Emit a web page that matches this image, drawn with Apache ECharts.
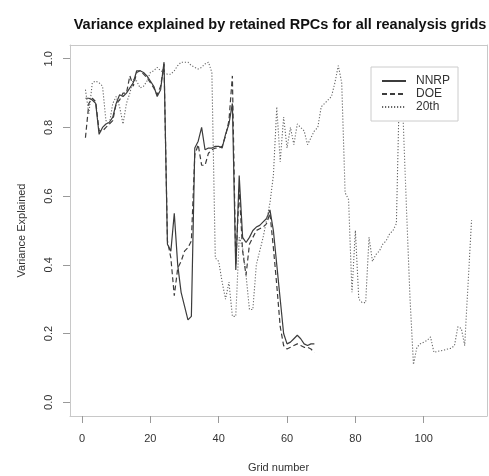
<!DOCTYPE html>
<html>
<head>
<meta charset="utf-8" />
<title>Variance explained by retained RPCs</title>
<script src="https://cdn.jsdelivr.net/npm/echarts@6/dist/echarts.min.js"></script>
<style>
    body { margin: 0; background: #fff; }
</style>
</head>
<body>
<div id="main" style="width: 489px;height: 476px;"></div>
<script type="text/javascript">
// values, grid numbers start at 1
var nnrp = [0.885, 0.885, 0.88, 0.87, 0.78, 0.80, 0.81, 0.815, 0.83, 0.87,
    0.895, 0.89, 0.90, 0.915, 0.93, 0.965, 0.965, 0.96, 0.95, 0.935,
    0.92, 0.89, 0.91, 0.99, 0.46, 0.44, 0.55, 0.40, 0.32, 0.28,
    0.24, 0.25, 0.74, 0.76, 0.80, 0.735, 0.74, 0.74, 0.745, 0.745,
    0.74, 0.78, 0.81, 0.87, 0.385, 0.66, 0.48, 0.465, 0.48, 0.50,
    0.51, 0.515, 0.525, 0.535, 0.56, 0.50, 0.40, 0.30, 0.20, 0.17,
    0.175, 0.185, 0.195, 0.185, 0.17, 0.165, 0.17, 0.17];
var doe = [0.77, 0.87, 0.885, 0.875, 0.79, 0.79, 0.80, 0.81, 0.82, 0.87,
    0.88, 0.90, 0.90, 0.95, 0.92, 0.96, 0.965, 0.955, 0.945, 0.93,
    0.915, 0.895, 0.92, 0.985, 0.47, 0.42, 0.31, 0.39, 0.41, 0.44,
    0.45, 0.47, 0.72, 0.75, 0.69, 0.69, 0.725, 0.735, 0.74, 0.74,
    0.745, 0.775, 0.82, 0.95, 0.40, 0.62, 0.44, 0.37, 0.46, 0.48,
    0.50, 0.505, 0.51, 0.52, 0.55, 0.45, 0.34, 0.22, 0.165, 0.155,
    0.16, 0.165, 0.17, 0.165, 0.16, 0.16, 0.155, 0.145];
var twentieth = [0.91, 0.84, 0.93, 0.935, 0.93, 0.92, 0.82, 0.81, 0.87, 0.89,
    0.86, 0.81, 0.87, 0.90, 0.94, 0.935, 0.915, 0.92, 0.935, 0.96,
    0.965, 0.975, 0.965, 0.96, 0.955, 0.955, 0.965, 0.98, 0.99, 0.99,
    0.99, 0.98, 0.975, 0.97, 0.975, 0.985, 0.99, 0.96, 0.42, 0.41,
    0.35, 0.30, 0.35, 0.25, 0.25, 0.48, 0.45, 0.37, 0.27, 0.27,
    0.40, 0.44, 0.48, 0.53, 0.58, 0.66, 0.86, 0.70, 0.83, 0.74,
    0.80, 0.75, 0.81, 0.80, 0.79, 0.75, 0.77, 0.79, 0.80, 0.86,
    0.87, 0.88, 0.89, 0.93, 0.98, 0.93, 0.61, 0.59, 0.32, 0.50,
    0.30, 0.29, 0.29, 0.48, 0.41, 0.43, 0.44, 0.46, 0.47, 0.49,
    0.50, 0.52, 0.97, 0.82, 0.55, 0.30, 0.11, 0.16, 0.17, 0.175,
    0.18, 0.19, 0.145, 0.148, 0.15, 0.152, 0.155, 0.157, 0.165, 0.22,
    0.215, 0.165, 0.35, 0.53];
var seriesNames = ['NNRP', 'DOE', '20th'];
var xTicks = [0, 20, 40, 60, 80, 100];
var yTicks = [0, 0.2, 0.4, 0.6, 0.8, 1.0];

function toPairs(arr) {
    return arr.map(function (v, i) { return [i + 1, v]; });
}

var myChart = echarts.init(document.getElementById('main'));

var boxLine = { show: true, onZero: false, lineStyle: { color: '#c8c8c8', width: 1 } };
var tickStyle = { color: '#999', width: 1 };

var option = {
    animation: false,
    backgroundColor: '#fff',
    textStyle: { fontFamily: 'Liberation Sans, Arial, sans-serif' },
    title: {
        text: 'Variance explained by retained RPCs for all reanalysis grids',
        left: 275,
        top: 12,
        textAlign: 'center',
        textStyle: { fontSize: 14.5, fontWeight: 'bold', color: '#111' }
    },
    legend: {
        data: seriesNames,
        orient: 'vertical',
        left: 371,
        top: 67,
        padding: [8, 8, 8, 10],
        itemGap: 1,
        itemWidth: 24,
        itemHeight: 14,
        backgroundColor: '#fff',
        borderColor: '#ccc',
        borderWidth: 1,
        borderRadius: 0,
        z: 10,
        itemStyle: { opacity: 0 },
        textStyle: { fontSize: 12, color: '#333', padding: [0, 0, 0, 5] }
    },
    grid: {
        left: 70,
        right: 2,
        top: 45,
        bottom: 60,
        show: false,
        containLabel: false,
        outerBoundsMode: 'none'
    },
    xAxis: [{
        type: 'value',
        position: 'bottom',
        min: -3.52,
        max: 118.52,
        name: 'Grid number',
        nameLocation: 'middle',
        nameGap: 46,
        nameTextStyle: { fontSize: 11, color: '#333' },
        axisLine: boxLine,
        splitLine: { show: false },
        axisTick: { show: true, inside: false, customValues: xTicks, length: 7, lineStyle: tickStyle },
        axisLabel: { show: true, customValues: xTicks, fontSize: 11, color: '#333', margin: 17 }
    }, {
        type: 'value',
        position: 'top',
        min: -3.52,
        max: 118.52,
        axisLine: boxLine,
        axisTick: { show: false },
        axisLabel: { show: false },
        splitLine: { show: false }
    }],
    yAxis: [{
        type: 'value',
        position: 'left',
        min: -0.04,
        max: 1.04,
        name: 'Variance Explained',
        nameLocation: 'middle',
        nameGap: 43,
        nameTextStyle: { fontSize: 11, color: '#333' },
        axisLine: boxLine,
        splitLine: { show: false },
        axisTick: { show: true, inside: false, customValues: yTicks, length: 7, lineStyle: tickStyle },
        axisLabel: {
            show: true,
            customValues: yTicks,
            rotate: 90,
            fontSize: 11,
            color: '#333',
            margin: 16,
            formatter: function (v) { return v.toFixed(1); }
        }
    }, {
        type: 'value',
        position: 'right',
        min: -0.04,
        max: 1.04,
        axisLine: boxLine,
        axisTick: { show: false },
        axisLabel: { show: false },
        splitLine: { show: false }
    }],
    series: [{
        name: seriesNames[0],
        type: 'line',
        symbol: 'none',
        data: toPairs(nnrp),
        lineStyle: { color: '#3c3c3c', width: 1.2, type: 'solid' },
        itemStyle: { color: '#3c3c3c' }
    }, {
        name: seriesNames[1],
        type: 'line',
        symbol: 'none',
        data: toPairs(doe),
        lineStyle: { color: '#3c3c3c', width: 1.2, type: [5, 3] },
        itemStyle: { color: '#3c3c3c' }
    }, {
        name: seriesNames[2],
        type: 'line',
        symbol: 'none',
        data: toPairs(twentieth),
        lineStyle: { color: '#666', width: 1.1, type: [1.2, 1.8] },
        itemStyle: { color: '#666' }
    }]
};

myChart.setOption(option);
</script>
</body>
</html>
